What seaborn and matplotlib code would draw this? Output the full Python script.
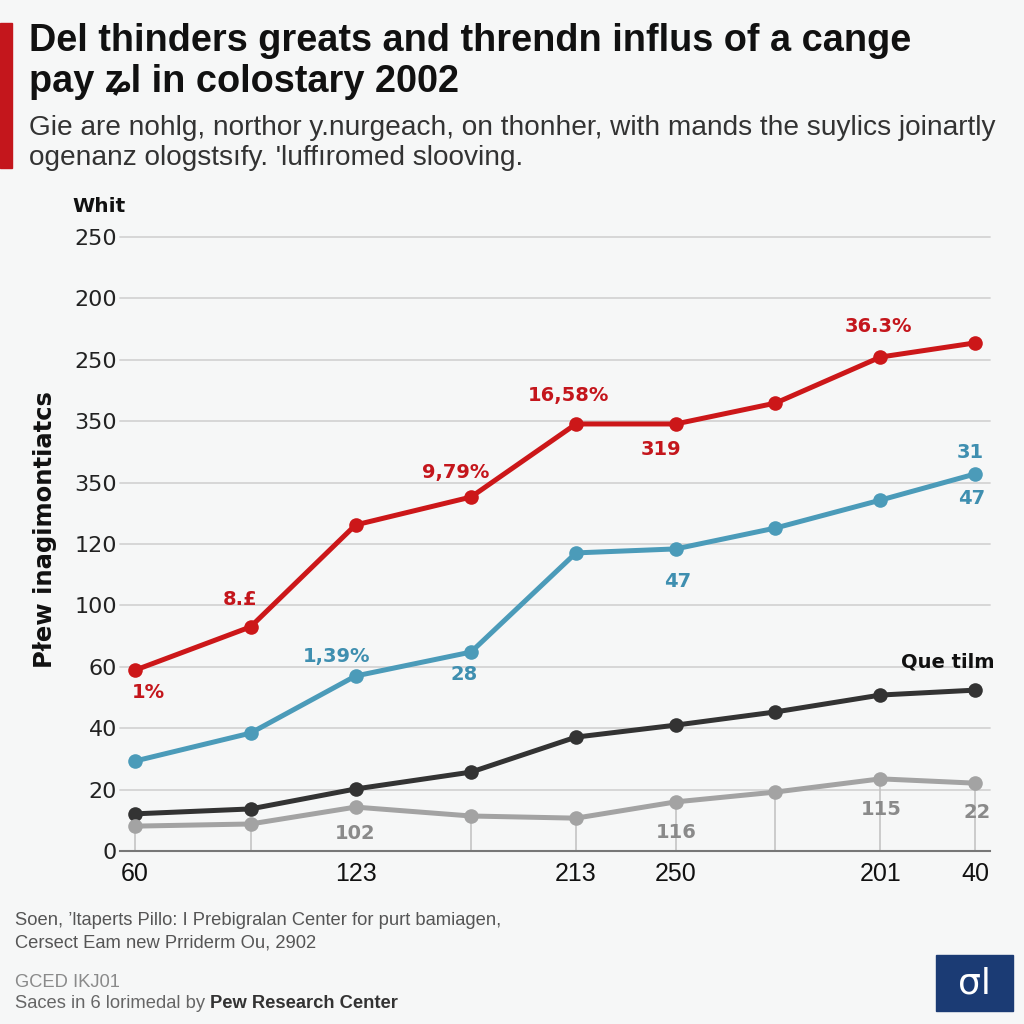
import matplotlib
matplotlib.use("Agg")
import matplotlib.pyplot as plt
import numpy as np
import pandas as pd
import seaborn as sns
from matplotlib.patches import Rectangle

# ---------------- data ----------------
x_pos = [0, 1.1, 2.1, 3.2, 4.2, 5.15, 6.1, 7.1, 8.0]
red_vals = [58.9, 73.0, 106.2, 115.3, 139.1, 139.1, 145.9, 160.9, 165.5]
blue_vals = [29.3, 38.4, 57.0, 64.8, 97.1, 98.4, 105.2, 114.3, 122.8]
black_vals = [12.1, 13.7, 20.2, 25.7, 37.1, 41.0, 45.3, 50.8, 52.4]
gray_vals = [8.1, 8.8, 14.3, 11.4, 10.7, 16.0, 19.2, 23.5, 22.1]
series_names = ["Red", "Blue", "Black", "Gray"]
series_colors = ["#cc1719", "#4b9bb9", "#333333", "#a3a3a3"]

y_tick_vals = [0, 20, 40, 60, 80, 100, 120, 140, 160, 180, 200]
y_tick_labels = ["0", "20", "40", "60", "100", "120", "350", "350", "250", "200", "250"]
x_tick_idx = [0, 2, 4, 5, 7, 8]
x_tick_labels = ["60", "123", "213", "250", "201", "40"]
drop_idx = [0, 1, 3, 4, 5, 6, 7, 8]

# (series, point index, text, dx px, dy px)
annotations = [
    ("Red", 0, "1%", 13, -22),
    ("Red", 1, "8.\u00a3", -10, 27),
    ("Red", 3, "9,79%", -15, 25),
    ("Red", 4, "16,58%", -7, 28),
    ("Red", 5, "319", -15, -26),
    ("Red", 7, "36.3%", -2, 31),
    ("Blue", 2, "1,39%", -19, 20),
    ("Blue", 3, "28", -7, -22),
    ("Blue", 5, "47", 2, -33),
    ("Blue", 8, "31", -5, 22),
    ("Blue", 8, "47", -3, -24),
    ("Gray", 2, "102", 0, -26),
    ("Gray", 5, "116", 1, -31),
    ("Gray", 7, "115", 1, -31),
    ("Gray", 8, "22", 2, -29),
]

values = {"Red": red_vals, "Blue": blue_vals, "Black": black_vals, "Gray": gray_vals}
df = pd.concat(
    [pd.DataFrame({"x": x_pos, "value": values[n], "series": n}) for n in series_names],
    ignore_index=True,
)

# ---------------- figure ----------------
BG = "#f6f7f7"
sns.set_theme(style="white")
plt.rcParams["font.family"] = ["DejaVu Sans"]
fig = plt.figure(figsize=(10.24, 10.24), dpi=100, facecolor=BG)
ax = fig.add_axes([120 / 1024, (1024 - 851) / 1024, 870 / 1024, 614 / 1024])
ax.set_facecolor(BG)

# gridlines
for yv in y_tick_vals[1:]:
    ax.axhline(yv, color="#d4d4d4", lw=1.3, zorder=0)

# drop lines from gray series
for i in drop_idx:
    ax.vlines(x_pos[i], 0, gray_vals[i], color="#c4c4c4", lw=1.2, zorder=0.5)

sns.lineplot(
    data=df, x="x", y="value", hue="series", hue_order=series_names,
    palette=dict(zip(series_names, series_colors)), sort=False,
    marker="o", markersize=10.5, markeredgewidth=0, linewidth=3.6,
    legend=False, ax=ax, zorder=3,
)
for ln in ax.lines:
    ln.set_clip_on(False)

ax.set_xlim(-0.143, 8.143)
ax.set_ylim(0, 200)
ax.set_yticks(y_tick_vals)
ax.set_yticklabels(y_tick_labels, fontsize=16, color="#222222")
ax.set_xticks([x_pos[i] for i in x_tick_idx])
ax.set_xticklabels(x_tick_labels, fontsize=18, color="#111111",
                   family=["Liberation Sans Narrow", "Liberation Sans", "DejaVu Sans"])
ax.tick_params(axis="x", length=0, pad=8)
ax.tick_params(axis="y", length=0, pad=2)
ax.set_xlabel("")
ax.set_ylabel("")
for s in ["top", "right", "left"]:
    ax.spines[s].set_visible(False)
ax.spines["bottom"].set_color("#777777")
ax.spines["bottom"].set_linewidth(1.5)

text_color = {"Red": "#c4161c", "Blue": "#3f8fb0", "Gray": "#8a8a8a", "Black": "#111111"}
for name, i, txt, dx, dy in annotations:
    ax.annotate(txt, xy=(x_pos[i], values[name][i]), xytext=(dx, dy),
                textcoords="offset pixels", ha="center", va="center",
                fontsize=14, fontweight="bold", color=text_color[name], zorder=5)
ax.annotate("Que tilm", xy=(x_pos[8], black_vals[8]), xytext=(-27, 28),
            textcoords="offset pixels", ha="center", va="center",
            fontsize=14, fontweight="bold", color="#111111", zorder=5)

# ---------------- texts ----------------
NARROW = ["Liberation Sans Narrow", "Liberation Sans", "DejaVu Sans"]
def fy(px):
    return (1024 - px) / 1024

fig.text(45 / 1024, fy(530), "Płew inagimontiatcs", rotation=90, ha="center", va="center",
         fontsize=17.5, fontweight="bold", color="#111111")

fig.patches.append(Rectangle((0, fy(168)), 12 / 1024, 145 / 1024,
                             transform=fig.transFigure, color="#c4161c"))
fig.text(29 / 1024, fy(51), "Del thinders greats and threndn influs of a cange",
         fontsize=27.3, fontweight="bold", family=NARROW, color="#111111", va="baseline")
fig.text(29 / 1024, fy(92), "pay ʑl in colostary 2002",
         fontsize=27.3, fontweight="bold", family=NARROW, color="#111111", va="baseline")
fig.text(29 / 1024, fy(135),
         "Gie are nohlg, northor y.nurgeach, on thonher, with mands the suylics joinartly",
         fontsize=20.2, family=NARROW, color="#333333", va="baseline")
fig.text(29 / 1024, fy(165), "ogenanz ologstsıfy. 'luffıromed slooving.",
         fontsize=20.2, family=NARROW, color="#333333", va="baseline")
fig.text(72 / 1024, fy(212), "Whit", fontsize=14.5, fontweight="bold",
         color="#111111", va="baseline")

fig.text(15 / 1024, fy(925), "Soen, ’ltaperts Pillo: I Prebigralan Center for purt bamiagen,",
         fontsize=13.2, family=NARROW, color="#555555", va="baseline")
fig.text(15 / 1024, fy(947), "Cersect Eam new Prriderm Ou, 2902",
         fontsize=13.2, family=NARROW, color="#555555", va="baseline")
fig.text(15 / 1024, fy(987), "GCED IKJ01",
         fontsize=13.2, family=NARROW, color="#8a8a8a", va="baseline")
t4 = fig.text(15 / 1024, fy(1008), "Saces in 6 lorimedal by ",
              fontsize=13.2, family=NARROW, color="#666666", va="baseline")
fig.canvas.draw()
ren = fig.canvas.get_renderer()
bb = t4.get_window_extent(ren)
fig.text(bb.x1 / fig.bbox.width, fy(1008), "Pew Research Center",
         fontsize=13.2, family=NARROW, fontweight="bold", color="#333333", va="baseline")

fig.patches.append(Rectangle((936 / 1024, fy(1011)), 77 / 1024, 56 / 1024,
                             transform=fig.transFigure, color="#1b3b74"))
fig.text(974 / 1024, fy(983), "σl", fontsize=26, color="white",
         ha="center", va="center")

fig.savefig("out.png", dpi=100, facecolor=BG)
